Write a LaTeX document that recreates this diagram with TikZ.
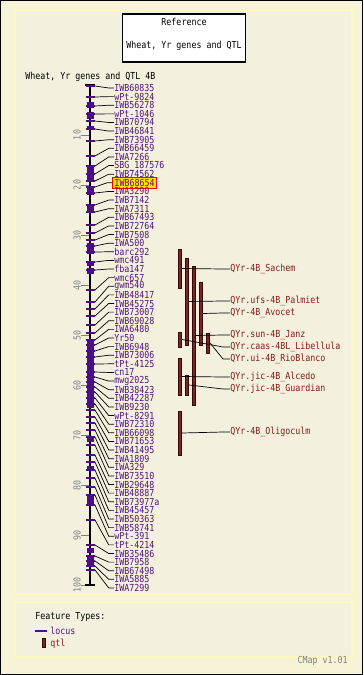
\documentclass[tikz,border=0pt]{standalone}
\usepackage{fontspec}
\newfontfamily\cmapfont[FakeStretch=0.86]{DejaVu Sans Mono}
\definecolor{cmapbg}{RGB}{246,243,214}
\definecolor{panelbg}{RGB}{243,241,221}
\definecolor{panelrim}{RGB}{252,248,190}
\definecolor{locuscol}{RGB}{75,15,130}
\definecolor{locustext}{RGB}{80,20,120}
\definecolor{qtlfill}{RGB}{122,38,38}
\definecolor{qtlrim}{RGB}{55,10,10}
\definecolor{qtltext}{RGB}{128,28,28}
\definecolor{cmgray}{RGB}{128,128,128}
\definecolor{hilite}{RGB}{255,224,0}

\begin{document}
\begin{tikzpicture}[x=0.02cm, y=-0.02cm,
  every node/.style={font=\cmapfont\fontsize{5.5}{6}\selectfont},
  locusname/.style={anchor=west, inner sep=0pt, text=locustext},
  hit12/.style={fill=hilite, draw=red, line width=0.6pt, inner sep=1pt, xshift=-1pt},
  qtlbar/.style={draw=qtlrim, fill=qtlfill, line width=0.4pt, inner sep=0pt, minimum width=0.07cm},
  qtlname/.style={anchor=west, inner sep=0pt, text=qtltext},
  tickname/.style={rotate=90, text=cmgray, inner sep=0pt},
  panel/.style={fill=panelbg, draw=panelrim, line width=1pt}
]
\useasboundingbox (0,0) rectangle (363,675);
\fill[cmapbg] (0,0) rectangle (363,675);
\draw[panel] (15,10) rectangle (352,594);
\draw[panel] (15,602) rectangle (352,657);
\draw[line width=1pt] (0.5,0.5) rectangle (362.5,674.5);

% reference box
\node[draw, fill=white, line width=0.6pt, minimum width=2.46cm, minimum height=0.96cm] (refbox) at (184,38) {};
\node (reftitle) at (184,22) {Reference};
\node (refname) at (184,46) {Wheat, Yr genes and QTL};
\node[anchor=west, inner sep=0pt] (maptitle) at (25,77) {Wheat, Yr genes and QTL 4B};

% scale
\foreach \cm in {10,20,...,100} {
  \draw[cmgray, line width=0.5pt] (81,{85+5*\cm}) -- (90,{85+5*\cm});
  \node[tickname] (t\cm) at (77,{85+5*\cm}) {\cm};
}

% chromosome
\draw[line width=1.2pt] (90,85) -- (90,585);
\draw[line width=0.8pt] (85,85) -- (95,85);
\draw[line width=0.8pt] (85,585) -- (95,585);
\foreach \a/\b in {102/108, 112/119, 126/130, 165/180, 187/195, 204/211, 243/254,
  261/266, 268/274, 340/408, 437/442, 466/471, 495/506, 548/553, 557/566}
  \fill[locuscol] (86.5,\a) rectangle (93.5,\b);

% loci
\foreach \lc/\nm [count=\i] in {86/IWB60835, 97/wPt-9824, 106/IWB56278, 114/wPt-1046,
  121/IWB70794, 129/IWB46841, 141/IWB73905, 156/IWB66459, 166/IWA7266, 174/SBG\_187576,
  181/IWB74562, 187/IWB68654, 193/IWA3290, 205/IWB7142, 212/IWA7311, 225/IWB67493,
  233/IWB72764, 240/IWB7508, 246/IWA500, 252/barc292, 262/wmc491, 270/fba147,
  290/wmc657, 302/gwm540, 309/IWB48417, 316/IWB45275, 325/IWB73007, 333/IWB69028,
  340/IWA6480, 345/Yr50, 351/IWB6948, 357/IWB73006, 364/tPt-4125, 372/cn17,
  377/mwg2025, 382/IWB38423, 387/IWB42287, 392/IWB9230, 398/wPt-8291, 404/IWB72310,
  410/IWB66098, 417/IWB71653, 423/IWB41495, 430/IWA1809, 437/IWA329, 445/IWB73510,
  455/IWB29648, 462/IWB48887, 470/IWB73977a, 478/IWB45457, 487/IWB50363, 495/IWB58741,
  505/wPt-391, 520/tPt-4214, 545/IWB35486, 556/IWB7958, 561/IWB67498, 566/IWA5885,
  570/IWA7299} {
  \coordinate (c\i) at (95,\lc);
  \draw[locuscol, line width=0.7pt] (85.5,\lc) -- (94.5,\lc);
  \node[locusname, hit\i/.try] (m\i) at (114,{88+(\i-1)*8.62}) {\nm};
  \draw[line width=0.4pt] (c\i) -- ([xshift=-3pt]m\i.west) -- (m\i.west);
}

% qtl
\node[qtlbar, minimum height=0.78cm] (sachem) at (180,268.5) {};
\node[qtlbar, minimum height=1.74cm] (palmiet) at (187,301.5) {};
\node[qtlbar, minimum height=2.78cm] (janz) at (194,335.5) {};
\node[qtlbar, minimum height=1.26cm] (avocet) at (201,313.5) {};
\node[qtlbar, minimum height=0.40cm] (rioblanco) at (208,343) {};
\node[qtlbar, minimum height=0.30cm] (libellula) at (180,339.5) {};
\node[qtlbar, minimum height=0.74cm] (alcedo) at (180,376.5) {};
\node[qtlbar, minimum height=0.40cm] (guardian) at (187,385) {};
\node[qtlbar, minimum height=0.88cm] (oligoculm) at (180,433) {};

\node[qtlname] (lsachem) at (230,269) {QYr-4B\_Sachem};
\node[qtlname] (lpalmiet) at (230,301) {QYr.ufs-4B\_Palmiet};
\node[qtlname] (lavocet) at (230,313) {QYr-4B\_Avocet};
\node[qtlname] (ljanz) at (230,335) {QYr.sun-4B\_Janz};
\node[qtlname] (llibellula) at (230,347) {QYr.caas-4BL\_Libellula};
\node[qtlname] (lrioblanco) at (230,359) {QYr.ui-4B\_RioBlanco};
\node[qtlname] (lalcedo) at (230,377) {QYr.jic-4B\_Alcedo};
\node[qtlname] (lguardian) at (230,389) {QYr.jic-4B\_Guardian};
\node[qtlname] (loligoculm) at (230,432) {QYr-4B\_Oligoculm};

\foreach \q in {sachem, palmiet, avocet, janz, libellula, rioblanco, alcedo, guardian, oligoculm}
  \draw[line width=0.4pt] (\q.east) -- ([xshift=-4pt]l\q.west) -- (l\q.west);

% legend
\node[anchor=west, inner sep=0pt] (ftypes) at (35,617) {Feature Types:};
\coordinate (lg1) at (35,631);
\coordinate (lg2) at (47,631);
\draw[locuscol, line width=0.6pt] (lg1) -- (lg2);
\node[locusname] (lglocus) at (50,631) {locus};
\node[qtlbar, minimum height=0.18cm] (lgqtl) at (44,643) {};
\node[qtlname] (lgqtlname) at (50,644) {qtl};
\node[anchor=east, inner sep=0pt, text=cmgray] (version) at (348,661) {CMap v1.01};

\end{tikzpicture}
\end{document}
